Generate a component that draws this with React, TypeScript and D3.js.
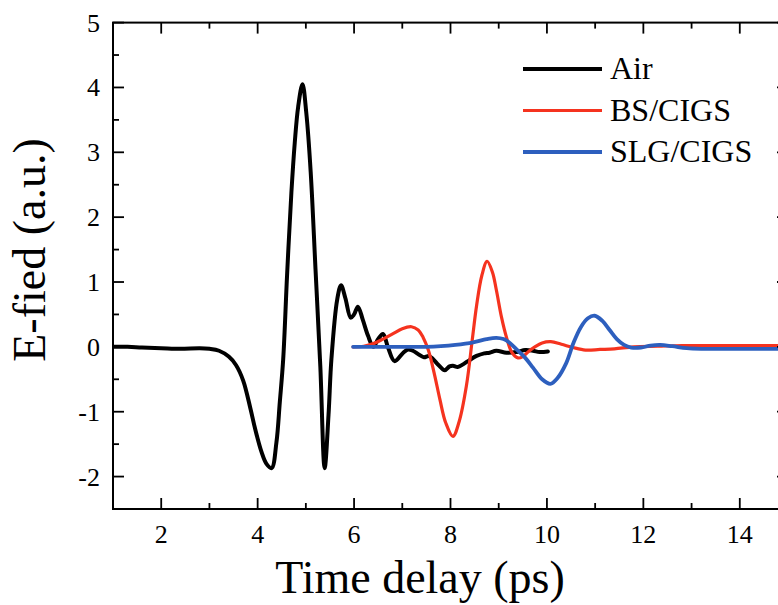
import React from "react";
import * as d3 from "d3";

const airX = [1.0, 1.3, 1.6, 2.0, 2.4, 2.8, 3.0, 3.2, 3.4, 3.55, 3.7, 3.85, 3.95, 4.08, 4.18, 4.29, 4.39, 4.46, 4.53, 4.61, 4.7, 4.77, 4.84, 4.93, 5.01, 5.1, 5.2, 5.3, 5.39, 5.47, 5.53, 5.65, 5.73, 5.82, 5.93, 6.0, 6.08, 6.18, 6.29, 6.4, 6.5, 6.6, 6.7, 6.84, 7.02, 7.12, 7.22, 7.35, 7.45, 7.55, 7.64, 7.75, 7.88, 7.98, 8.05, 8.15, 8.26, 8.4, 8.54, 8.7, 8.81, 8.95, 9.16, 9.37, 9.55, 9.71, 9.85, 10.02];
const airY = [0.0, 0.0, -0.01, -0.02, -0.03, -0.02, -0.03, -0.06, -0.15, -0.28, -0.52, -0.95, -1.27, -1.62, -1.8, -1.87, -1.47, -0.85, -0.19, 1.1, 2.38, 3.15, 3.7, 4.05, 3.6, 2.7, 1.2, -0.3, -1.87, -1.05, -0.19, 0.73, 0.95, 0.75, 0.45, 0.5, 0.62, 0.42, 0.17, 0.0, 0.12, 0.2, 0.0, -0.22, -0.09, -0.04, -0.06, -0.12, -0.16, -0.14, -0.19, -0.28, -0.36, -0.3, -0.29, -0.31, -0.27, -0.2, -0.14, -0.1, -0.09, -0.06, -0.09, -0.08, -0.05, -0.06, -0.08, -0.07];

const bsX = [5.98, 6.2, 6.4, 6.6, 6.8, 7.0, 7.19, 7.33, 7.43, 7.54, 7.66, 7.78, 7.9, 8.05, 8.18, 8.33, 8.45, 8.54, 8.65, 8.76, 8.87, 8.95, 9.06, 9.16, 9.27, 9.4, 9.5, 9.62, 9.75, 9.9, 10.08, 10.3, 10.54, 10.8, 11.1, 11.4, 11.8, 12.3, 12.8, 13.5, 14.2, 15.0];
const bsY = [0.0, 0.01, 0.05, 0.12, 0.2, 0.28, 0.31, 0.26, 0.15, -0.05, -0.4, -0.81, -1.17, -1.38, -1.15, -0.6, 0.1, 0.63, 1.1, 1.32, 1.15, 0.88, 0.45, 0.15, -0.08, -0.17, -0.15, -0.07, 0.0, 0.06, 0.08, 0.04, -0.01, -0.05, -0.04, -0.03, 0.0, 0.01, 0.02, 0.02, 0.02, 0.02];

const slgX = [5.98, 6.5, 7.0, 7.5, 7.8, 8.1, 8.47, 8.75, 8.95, 9.1, 9.23, 9.37, 9.55, 9.71, 9.9, 10.07, 10.22, 10.4, 10.55, 10.7, 10.85, 10.99, 11.15, 11.3, 11.45, 11.6, 11.75, 11.95, 12.15, 12.35, 12.6, 12.9, 13.2, 13.6, 14.2, 15.0];
const slgY = [0.0, 0.0, 0.0, 0.0, 0.01, 0.03, 0.07, 0.12, 0.14, 0.12, 0.06, -0.04, -0.17, -0.32, -0.5, -0.57, -0.48, -0.25, 0.06, 0.3, 0.44, 0.48, 0.4, 0.26, 0.12, 0.03, -0.01, -0.01, 0.02, 0.03, 0.01, -0.02, -0.03, -0.03, -0.03, -0.03];

const seriesNames = ["Air", "BS/CIGS", "SLG/CIGS"];
const seriesColors = ["#000000", "#f5331f", "#2d5fbe"];

const xMajorTicks = [2, 4, 6, 8, 10, 12, 14];
const xMinorTicks = [3, 5, 7, 9, 11, 13, 15];
const yMajorTicks = [-2, -1, 0, 1, 2, 3, 4, 5];
const yMinorTicks = [-1.5, -0.5, 0.5, 1.5, 2.5, 3.5, 4.5];

const xTitle = "Time delay (ps)";
const yTitle = "E-fied (a.u.)";

const W = 778;
const H = 605;
const left = 113;
const right = 788;
const top = 22.6;
const bottom = 509;
const fontStyle = { fontFamily: '"Liberation Serif", "Times New Roman", Times, serif' };

export default function App() {
  const x = d3.scaleLinear().domain([1, 15]).range([left, right]);
  const y = d3.scaleLinear().domain([-2.5, 5]).range([bottom, top]);
  const line = d3
    .line<[number, number]>()
    .x((d) => x(d[0]))
    .y((d) => y(d[1]))
    .curve(d3.curveCatmullRom.alpha(0.5));

  const series: [number, number][][] = [
    airX.map((v, i) => [v, airY[i]] as [number, number]),
    bsX.map((v, i) => [v, bsY[i]] as [number, number]),
    slgX.map((v, i) => [v, slgY[i]] as [number, number]),
  ];
  const widths = [4, 3.2, 3.8];

  const major = 11;
  const minor = 6;

  return (
    <svg
      width={W}
      height={H}
      style={{ position: "absolute", left: 0, top: 0, background: "#fff" }}
    >
      <defs>
        <clipPath id="plotclip">
          <rect x={left} y={top} width={right - left} height={bottom - top} />
        </clipPath>
      </defs>
      <rect x={0} y={0} width={W} height={H} fill="#fff" />
      <g clipPath="url(#plotclip)">
        {series.map((s, i) => (
          <path
            key={i}
            d={line(s) || ""}
            fill="none"
            stroke={seriesColors[i]}
            strokeWidth={widths[i]}
            strokeLinejoin="round"
            strokeLinecap="round"
          />
        ))}
      </g>
      <rect
        x={left}
        y={top}
        width={right - left}
        height={bottom - top}
        fill="none"
        stroke="#000"
        strokeWidth={2}
      />
      {xMajorTicks.map((t) => (
        <g key={"xM" + t}>
          <line x1={x(t)} x2={x(t)} y1={bottom} y2={bottom - major} stroke="#000" strokeWidth={1.8} />
          <line x1={x(t)} x2={x(t)} y1={top} y2={top + major} stroke="#000" strokeWidth={1.8} />
          <text x={x(t)} y={543} textAnchor="middle" style={fontStyle} fontSize={26} fill="#000">
            {t}
          </text>
        </g>
      ))}
      {xMinorTicks.map((t) => (
        <g key={"xm" + t}>
          <line x1={x(t)} x2={x(t)} y1={bottom} y2={bottom - minor} stroke="#000" strokeWidth={1.8} />
          <line x1={x(t)} x2={x(t)} y1={top} y2={top + minor} stroke="#000" strokeWidth={1.8} />
        </g>
      ))}
      {yMajorTicks.map((t) => (
        <g key={"yM" + t}>
          <line x1={left} x2={left + major} y1={y(t)} y2={y(t)} stroke="#000" strokeWidth={1.8} />
          <line x1={right} x2={right - major} y1={y(t)} y2={y(t)} stroke="#000" strokeWidth={1.8} />
          <text x={100} y={y(t) + 9} textAnchor="end" style={fontStyle} fontSize={26} fill="#000">
            {t}
          </text>
        </g>
      ))}
      {yMinorTicks.map((t) => (
        <g key={"ym" + t}>
          <line x1={left} x2={left + minor} y1={y(t)} y2={y(t)} stroke="#000" strokeWidth={1.8} />
          <line x1={right} x2={right - minor} y1={y(t)} y2={y(t)} stroke="#000" strokeWidth={1.8} />
        </g>
      ))}
      <text x={420} y={593} textAnchor="middle" style={fontStyle} fontSize={46} fill="#000">
        {xTitle}
      </text>
      <text
        transform={`translate(45, 250) rotate(-90)`}
        textAnchor="middle"
        style={fontStyle}
        fontSize={46}
        fill="#000"
      >
        {yTitle}
      </text>
      {seriesNames.map((n, i) => {
        const ly = 69 + i * 41.5;
        return (
          <g key={n}>
            <line x1={523} x2={602} y1={ly} y2={ly} stroke={seriesColors[i]} strokeWidth={i === 1 ? 3 : 3.8} />
            <text x={610} y={ly + 10} style={fontStyle} fontSize={32} fill="#000">
              {n}
            </text>
          </g>
        );
      })}
    </svg>
  );
}
